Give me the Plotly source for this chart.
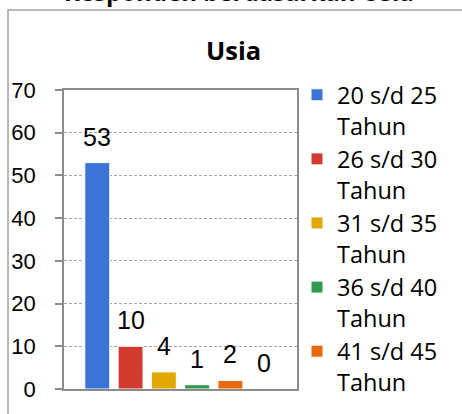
import plotly.graph_objects as go

categories = ["20 s/d 25 Tahun", "26 s/d 30 Tahun", "31 s/d 35 Tahun",
              "36 s/d 40 Tahun", "41 s/d 45 Tahun", "46 s/d 50 Tahun"]
legend_names = ["20 s/d 25<br>Tahun", "26 s/d 30<br>Tahun", "31 s/d 35<br>Tahun",
                "36 s/d 40<br>Tahun", "41 s/d 45<br>Tahun", "46 s/d 50<br>Tahun"]
values = [53, 10, 4, 1, 2, 0]
colors = ["#3A74D6", "#D13B30", "#E0A800", "#2F9A4B", "#E8680C", "#8E5CB5"]
show_in_legend = [True, True, True, True, True, False]
title_text = "Usia"
outer_title = "Responden berdasarkan Usia"

W, H = 462, 414
L, R, T, B = 64, 165, 90, 25
pw, ph = W - L - R, H - T - B

def px_x(p):
    return (p - L) / pw

def px_y(p):
    return (H - B - p) / ph

fig = go.Figure()
for cat, nm, v, c, sl in zip(categories, legend_names, values, colors, show_in_legend):
    fig.add_trace(go.Bar(
        x=[cat], y=[v], name=nm, showlegend=sl,
        marker=dict(color=c, line=dict(color="white", width=1)),
    ))
    fig.add_annotation(x=cat, y=v, xref="x", yref="y", text=str(v),
                       showarrow=False, yanchor="middle", yshift=26,
                       font=dict(family="Liberation Sans, Arial", size=25, color="#000"))

fig.add_annotation(xref="paper", yref="paper", x=px_x(233), y=px_y(50),
                   xanchor="center", yanchor="middle", text="<b>%s</b>" % title_text,
                   showarrow=False,
                   font=dict(family="Open Sans", size=25.5, color="#000"))
fig.add_annotation(xref="paper", yref="paper", x=px_x(239), y=px_y(-9),
                   xanchor="center", yanchor="middle", text="<b>%s</b>" % outer_title,
                   showarrow=False,
                   font=dict(family="Open Sans", size=24, color="#000"))

fig.add_shape(type="rect", xref="paper", yref="paper",
              x0=px_x(8), x1=px_x(475), y0=px_y(425), y1=px_y(10),
              line=dict(color="#A0A0A0", width=1.5), fillcolor="rgba(0,0,0,0)")

fig.update_layout(
    width=W, height=H,
    margin=dict(l=L, r=R, t=T, b=B),
    paper_bgcolor="white", plot_bgcolor="white",
    barmode="overlay", bargap=0.25,
    showlegend=True,
    legend=dict(x=1.0, xanchor="left", y=px_y(73), yanchor="top",
                valign="top", traceorder="normal", maxheight=2000,
                font=dict(family="Open Sans", size=23.5, color="#000"),
                bgcolor="rgba(0,0,0,0)", borderwidth=0),
    xaxis=dict(type="category", range=[-1, 6], showticklabels=False, ticks="",
               showline=True, linecolor="#8C8C8C", linewidth=1.5, mirror=True,
               showgrid=False, zeroline=False, fixedrange=True),
    yaxis=dict(range=[0, 70], dtick=10, ticks="outside", ticklen=7,
               tickcolor="#8C8C8C", tickwidth=1.5,
               showline=True, linecolor="#8C8C8C", linewidth=1.5, mirror=True,
               showgrid=True, gridcolor="#A6A6A6", griddash="3px,2px", gridwidth=1,
               zeroline=False, ticklabelstandoff=15, fixedrange=True,
               tickfont=dict(family="Liberation Sans, Arial", size=22, color="#000")),
)

fig.write_html("out.html", config={"displayModeBar": False},
               post_script="document.body.style.margin='0';document.body.style.overflow='hidden';")
